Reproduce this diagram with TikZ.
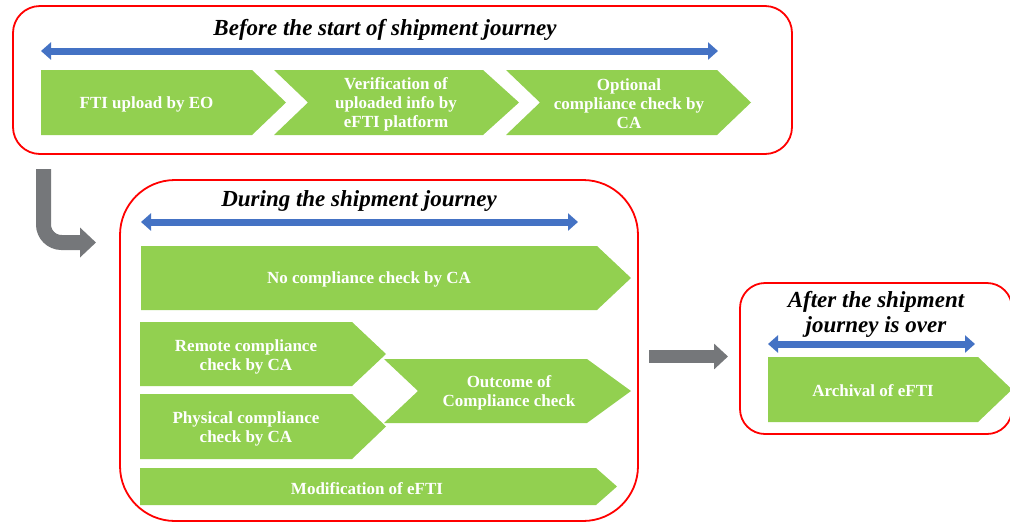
\documentclass[tikz,border=0pt]{standalone}
\usepackage{fontspec}
\setmainfont{Liberation Serif}
\usetikzlibrary{arrows.meta}

\definecolor{leaf}{HTML}{92D050}
\definecolor{lane}{HTML}{FF0000}
\definecolor{span}{HTML}{4472C4}
\definecolor{flow}{HTML}{75777A}

% chevron: left, notch, corner, tip, top, bottom
\newcommand{\chevronpath}[6]{%
  \fill[leaf] (#1,#5) -- (#3,#5) -- (#4,{(#5+#6)/2}) -- (#3,#6) -- (#1,#6)
    -- (#2,{(#5+#6)/2}) -- cycle;}

\begin{document}
\begin{tikzpicture}[x=1pt,y=-1pt,
  phase/.style={draw=lane, line width=1.8pt, fill=white, inner sep=0pt},
  headline/.style={font=\bfseries\itshape\fontsize{23}{25}\selectfont, align=center, inner sep=0pt},
  steptext/.style={text=white, font=\bfseries\fontsize{17}{19}\selectfont, align=center, inner sep=0pt},
  timeline/.style={draw=span, line width=7pt,
    {Triangle[width=17pt,length=10pt]}-{Triangle[width=17pt,length=10pt]}},
  flowarrow/.style={draw=flow, line width=#1},
]
\useasboundingbox (0,0) rectangle (1010,523);
\clip (0,0) rectangle (1010,523);

% phase frames
\node[phase, rounded corners=27pt, minimum width=779pt, minimum height=148pt] (before) at (402.5,80) {};
\node[phase, rounded corners=55pt, minimum width=518pt, minimum height=341pt] (during) at (379,350.5) {};
\node[phase, rounded corners=25pt, minimum width=272pt, minimum height=151pt] (after) at (876,358.5) {};

% phase titles
\node[headline, anchor=base] (beforetitle) at (385,35) {Before the start of shipment journey};
\node[headline, anchor=base] (duringtitle) at (359,206) {During the shipment journey};
\node[headline] (aftertitle) at (876,314) {After the shipment\\journey is over};

% timelines
\coordinate (b1) at (41,51);  \coordinate (b2) at (718,51);
\coordinate (d1) at (141,222); \coordinate (d2) at (578,222);
\coordinate (a1) at (768,344); \coordinate (a2) at (975,344);
\draw[timeline] (b1) -- (b2);
\draw[timeline] (d1) -- (d2);
\draw[timeline] (a1) -- (a2);

% steps before the journey
\chevronpath{41}{41}{252}{286}{70}{135}
\chevronpath{274}{308}{483}{519}{70}{135}
\chevronpath{506}{540}{717}{751}{70}{135}
\node[steptext] (upload) at (146.5,104) {FTI upload by EO};
\node[steptext] (verify) at (396,104) {Verification of\\uploaded info by\\eFTI platform};
\node[steptext] (optional) at (629,104) {Optional\\compliance check by\\CA};

% steps during the journey
\chevronpath{141}{141}{597}{631}{246}{310}
\chevronpath{140}{140}{352}{386}{322}{386}
\chevronpath{140}{140}{352}{386}{394}{459}
\chevronpath{384}{418}{587}{631}{359}{423}
\chevronpath{140}{140}{596}{617}{468}{505}
\node[steptext] (nocheck) at (369,279) {No compliance check by CA};
\node[steptext] (remote) at (246,357) {Remote compliance\\check by CA};
\node[steptext] (physical) at (246,429) {Physical compliance\\check by CA};
\node[steptext] (outcome) at (509,392.5) {Outcome of\\Compliance check};
\node[steptext] (modify) at (367,489) {Modification of eFTI};

% step after the journey
\chevronpath{768}{768}{978}{1012}{357}{422}
\node[steptext] (archive) at (873,391) {Archival of eFTI};

% transitions between phases
\coordinate (s1) at (43.5,169);
\coordinate (s2) at (96,242.5);
\draw[flowarrow=15pt, rounded corners=18pt, -{Triangle[width=29pt,length=16pt]}] (s1) |- (s2);
\coordinate (t1) at (649,356.5);
\coordinate (t2) at (728,356.5);
\draw[flowarrow=13pt, -{Triangle[width=25pt,length=14pt]}] (t1) -- (t2);
\end{tikzpicture}
\end{document}
